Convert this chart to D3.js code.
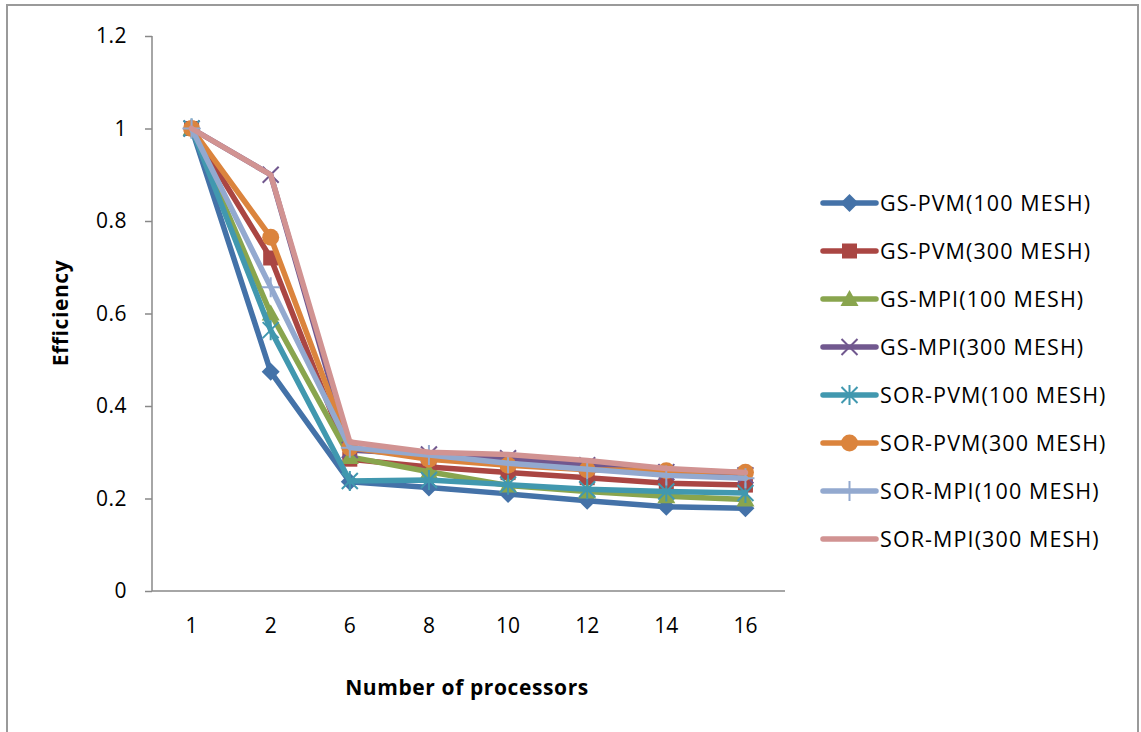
<!DOCTYPE html>
<html><head><meta charset="utf-8">
<script src="https://cdn.jsdelivr.net/npm/d3@7/dist/d3.min.js"></script>
<style>body{margin:0;background:#fff}svg{display:block}</style>
</head><body>
<svg id="c" width="1141" height="732"></svg>
<script>
const categories = ["1","2","6","8","10","12","14","16"];
const seriesNames = ["GS-PVM(100 MESH)","GS-PVM(300 MESH)","GS-MPI(100 MESH)","GS-MPI(300 MESH)","SOR-PVM(100 MESH)","SOR-PVM(300 MESH)","SOR-MPI(100 MESH)","SOR-MPI(300 MESH)"];
const gsPvm100  = [1, 0.474, 0.236, 0.224, 0.21, 0.195, 0.182, 0.179];
const gsPvm300  = [1, 0.72, 0.285, 0.268, 0.256, 0.245, 0.233, 0.229];
const gsMpi100  = [1, 0.60, 0.29, 0.258, 0.228, 0.215, 0.205, 0.198];
const gsMpi300  = [1, 0.90, 0.305, 0.295, 0.287, 0.272, 0.257, 0.25];
const sorPvm100 = [1, 0.564, 0.238, 0.24, 0.23, 0.22, 0.215, 0.212];
const sorPvm300 = [1, 0.765, 0.31, 0.285, 0.272, 0.262, 0.26, 0.257];
const sorMpi100 = [1, 0.657, 0.31, 0.294, 0.276, 0.263, 0.25, 0.244];
const sorMpi300 = [1, 0.90, 0.322, 0.30, 0.295, 0.282, 0.265, 0.256];
const yTicks = [0, 0.2, 0.4, 0.6, 0.8, 1, 1.2];

const series = [gsPvm100, gsPvm300, gsMpi100, gsMpi300, sorPvm100, sorPvm300, sorMpi100, sorMpi300];
const colors = ["#4472A8","#AA4643","#89A54E","#71588F","#4198AF","#DB843D","#93A9CF","#D19392"];
const markers = ["diamond","square","triangle","x","star","circle","plus","none"];

const svg = d3.select("#c");
const font = "'Open Sans', sans-serif";

// outer frame
svg.append("rect").attr("x",7).attr("y",5).attr("width",1131).attr("height",740)
  .attr("fill","#fff").attr("stroke","#9a9a9a").attr("stroke-width",2);

const pL = 152, pR = 785, pT = 36, pB = 591;
const x = d3.scaleBand().domain(categories).range([pL, pR]);
const y = d3.scaleLinear().domain([0, 1.2]).range([pB, pT]);

// y axis
const yAxis = svg.append("g").attr("transform",`translate(${pL},0)`)
  .call(d3.axisLeft(y).tickValues(yTicks).tickSize(7).tickPadding(18).tickFormat(d => String(+d.toFixed(1))));
yAxis.select(".domain").attr("stroke","#888").attr("stroke-width",1.5).attr("d",`M0,${pT}V${pB}`);
yAxis.selectAll(".tick line").attr("stroke","#888").attr("stroke-width",1.5);
yAxis.selectAll(".tick text").attr("font-family",font).attr("font-size",21).attr("letter-spacing","0.5px").attr("fill","#000");

// x axis
const xAxis = svg.append("g").attr("transform",`translate(0,${pB})`)
  .call(d3.axisBottom(x).tickSize(0).tickPadding(27));
xAxis.select(".domain").attr("stroke","#888").attr("stroke-width",1.5).attr("d",`M${pL},0H${pR}`);
xAxis.selectAll(".tick text").attr("font-family",font).attr("font-size",21).attr("fill","#000");

// titles
svg.append("text").attr("x",467).attr("y",695).attr("text-anchor","middle")
  .attr("font-family",font).attr("font-weight","bold").attr("font-size",21).attr("letter-spacing","0.6px").text("Number of processors");
svg.append("text").attr("transform","translate(68,313) rotate(-90)").attr("text-anchor","middle")
  .attr("font-family",font).attr("font-weight","bold").attr("font-size",21).attr("letter-spacing","0.6px").text("Efficiency");

function drawMarker(g, type, cx, cy, color) {
  if (type === "diamond") {
    g.append("path").attr("d",`M${cx},${cy-9}L${cx+9},${cy}L${cx},${cy+9}L${cx-9},${cy}Z`).attr("fill",color);
  } else if (type === "square") {
    g.append("rect").attr("x",cx-7.5).attr("y",cy-7.5).attr("width",15).attr("height",15).attr("fill",color);
  } else if (type === "triangle") {
    g.append("path").attr("d",`M${cx},${cy-9}L${cx+9},${cy+7}L${cx-9},${cy+7}Z`).attr("fill",color);
  } else if (type === "x") {
    g.append("path").attr("d",`M${cx-8},${cy-8}L${cx+8},${cy+8}M${cx+8},${cy-8}L${cx-8},${cy+8}`)
      .attr("stroke",color).attr("stroke-width",2).attr("fill","none");
  } else if (type === "star") {
    g.append("path").attr("d",`M${cx-8},${cy-8}L${cx+8},${cy+8}M${cx+8},${cy-8}L${cx-8},${cy+8}M${cx},${cy-10}L${cx},${cy+10}`)
      .attr("stroke",color).attr("stroke-width",2).attr("fill","none");
  } else if (type === "circle") {
    g.append("circle").attr("cx",cx).attr("cy",cy).attr("r",8.5).attr("fill",color);
  } else if (type === "plus") {
    g.append("path").attr("d",`M${cx-9},${cy}L${cx+9},${cy}M${cx},${cy-10}L${cx},${cy+10}`)
      .attr("stroke",color).attr("stroke-width",2).attr("fill","none");
  }
}

const line = d3.line().x((d,i) => x(categories[i]) + x.bandwidth()/2).y(d => y(d));
series.forEach((s, k) => {
  const g = svg.append("g");
  g.append("path").attr("d", line(s)).attr("fill","none").attr("stroke",colors[k])
    .attr("stroke-width",5.5).attr("stroke-linejoin","round").attr("stroke-linecap","round");
  s.forEach((v,i) => drawMarker(g, markers[k], x(categories[i]) + x.bandwidth()/2, y(v), colors[k]));
});

// legend
const lg = svg.append("g");
seriesNames.forEach((name, k) => {
  const ly = 203 + k * 48;
  lg.append("line").attr("x1",823).attr("x2",876).attr("y1",ly).attr("y2",ly)
    .attr("stroke",colors[k]).attr("stroke-width",5.5).attr("stroke-linecap","round");
  drawMarker(lg, markers[k], 849.5, ly, colors[k]);
  lg.append("text").attr("x",880).attr("y",ly).attr("dy","0.36em")
    .attr("font-family",font).attr("font-size",21.5).attr("letter-spacing","1.1px").attr("fill","#000").text(name);
});
</script>
</body></html>
